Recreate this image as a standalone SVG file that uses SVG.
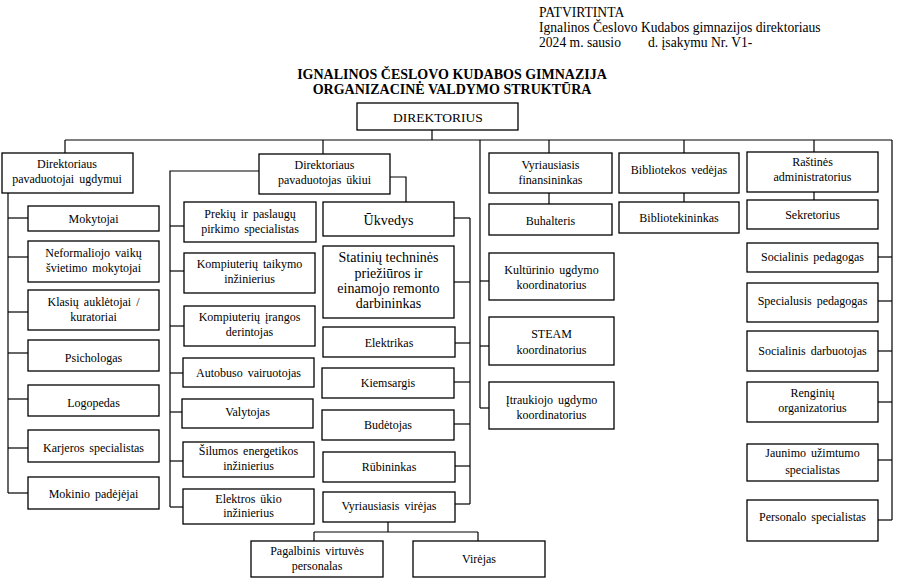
<svg xmlns="http://www.w3.org/2000/svg" width="900" height="583" viewBox="0 0 900 583">
<style>
text{font-family:"Liberation Serif","Times New Roman","DejaVu Serif",serif;fill:#000}
.hd{font-size:13.6px}
.ti{font-size:14px;font-weight:bold;text-anchor:middle}
.b rect{fill:#fff;stroke:#000;stroke-width:1.3}
.b text{font-size:12px;text-anchor:middle;word-spacing:2px}
.b text.big{font-size:14px;word-spacing:0}
.b text.dir{font-size:13.5px}
#connectors line,#connectors polyline{stroke:#000;stroke-width:1.2;fill:none}
</style>
<rect width="900" height="583" fill="#fff"/>
<g id="header">
<text class="hd" x="539" y="17">PATVIRTINTA</text>
<text class="hd" x="539" y="32">Ignalinos Česlovo Kudabos gimnazijos direktoriaus</text>
<text class="hd" x="539" y="47">2024 m. sausio</text>
<text class="hd" x="648" y="47">d. įsakymu  Nr. V1-</text>
<text class="ti" x="452" y="79">IGNALINOS ČESLOVO KUDABOS GIMNAZIJA</text>
<text class="ti" x="452" y="93.5">ORGANIZACINĖ VALDYMO STRUKTŪRA</text>
</g>
<g id="connectors">
<line x1="432" y1="130" x2="432" y2="140"/>
<line x1="65" y1="140" x2="892" y2="140"/>
<line x1="65" y1="140" x2="65" y2="153"/>
<line x1="323" y1="140" x2="323" y2="154"/>
<line x1="549" y1="140" x2="549" y2="153"/>
<line x1="684" y1="140" x2="684" y2="153"/>
<line x1="814" y1="140" x2="814" y2="152"/>
<line x1="8" y1="193" x2="8" y2="493"/>
<line x1="8" y1="218" x2="28" y2="218"/>
<line x1="8" y1="257" x2="28" y2="257"/>
<line x1="8" y1="312" x2="28" y2="312"/>
<line x1="8" y1="353" x2="28" y2="353"/>
<line x1="8" y1="399" x2="28" y2="399"/>
<line x1="8" y1="448" x2="28" y2="448"/>
<line x1="8" y1="493" x2="28" y2="493"/>
<polyline points="259,171 170,171 170,507"/>
<line x1="170" y1="226" x2="184" y2="226"/>
<line x1="170" y1="271" x2="184" y2="271"/>
<line x1="170" y1="326" x2="184" y2="326"/>
<line x1="170" y1="373" x2="183" y2="373"/>
<line x1="170" y1="412" x2="182" y2="412"/>
<line x1="170" y1="461" x2="183" y2="461"/>
<line x1="170" y1="507" x2="183" y2="507"/>
<polyline points="390,177 406,177 406,202"/>
<line x1="470" y1="218" x2="470" y2="504"/>
<line x1="454" y1="218" x2="470" y2="218"/>
<line x1="454" y1="282" x2="470" y2="282"/>
<line x1="455" y1="343" x2="470" y2="343"/>
<line x1="454" y1="382" x2="470" y2="382"/>
<line x1="454" y1="424" x2="470" y2="424"/>
<line x1="455" y1="466" x2="470" y2="466"/>
<line x1="455" y1="504" x2="470" y2="504"/>
<line x1="388" y1="522" x2="388" y2="532"/>
<line x1="314" y1="532" x2="478" y2="532"/>
<line x1="314" y1="532" x2="314" y2="541"/>
<line x1="478" y1="532" x2="478" y2="541"/>
<line x1="480" y1="140" x2="480" y2="408"/>
<line x1="480" y1="281" x2="489" y2="281"/>
<line x1="480" y1="346" x2="489" y2="346"/>
<line x1="480" y1="408" x2="489" y2="408"/>
<line x1="549" y1="193" x2="549" y2="204"/>
<line x1="684" y1="193" x2="684" y2="202"/>
<line x1="814" y1="192" x2="814" y2="200"/>
<line x1="892" y1="140" x2="892" y2="520"/>
<line x1="878" y1="257" x2="892" y2="257"/>
<line x1="878" y1="301" x2="892" y2="301"/>
<line x1="878" y1="351" x2="892" y2="351"/>
<line x1="878" y1="402" x2="892" y2="402"/>
<line x1="878" y1="460" x2="892" y2="460"/>
<line x1="878" y1="520" x2="892" y2="520"/>
</g>
<g id="direktorius" class="b"><rect x="357" y="103" width="161" height="27"/><text class="dir" x="438" y="122">DIREKTORIUS</text></g>
<g id="dp-ugdymui" class="b"><rect x="2" y="153" width="131" height="40"/><text x="67" y="168">Direktoriaus</text><text x="67" y="183">pavaduotojai ugdymui</text></g>
<g id="mokytojai" class="b"><rect x="28" y="206" width="131" height="25"/><text x="93.5" y="222.5">Mokytojai</text></g>
<g id="neformaliojo" class="b"><rect x="28" y="241" width="131" height="41"/><text x="93.5" y="257">Neformaliojo vaikų</text><text x="93.5" y="272">švietimo mokytojai</text></g>
<g id="klasiu" class="b"><rect x="28" y="290" width="131" height="40"/><text x="93.5" y="306">Klasių auklėtojai /</text><text x="93.5" y="321">kuratoriai</text></g>
<g id="psichologas" class="b"><rect x="28" y="340" width="131" height="31"/><text x="93.5" y="362">Psichologas</text></g>
<g id="logopedas" class="b"><rect x="28" y="385" width="131" height="31"/><text x="93.5" y="407">Logopedas</text></g>
<g id="karjeros" class="b"><rect x="28" y="430" width="131" height="32"/><text x="93.5" y="452">Karjeros specialistas</text></g>
<g id="mokinio" class="b"><rect x="28" y="477" width="131" height="32"/><text x="93.5" y="498">Mokinio padėjėjai</text></g>
<g id="dp-ukiui" class="b"><rect x="259" y="154" width="131" height="40"/><text x="324.5" y="169">Direktoriaus</text><text x="324.5" y="184">pavaduotojas ūkiui</text></g>
<g id="prekiu" class="b"><rect x="184" y="202" width="132" height="40"/><text x="250" y="217.5">Prekių ir paslaugų</text><text x="250" y="232.5">pirkimo specialistas</text></g>
<g id="komp-taikymo" class="b"><rect x="184" y="253" width="131" height="40"/><text x="249.5" y="268">Kompiuterių taikymo</text><text x="249.5" y="283">inžinierius</text></g>
<g id="komp-irangos" class="b"><rect x="184" y="306" width="131" height="40"/><text x="249.5" y="321">Kompiuterių įrangos</text><text x="249.5" y="336">derintojas</text></g>
<g id="autobuso" class="b"><rect x="183" y="358" width="131" height="29"/><text x="248.5" y="377">Autobuso vairuotojas</text></g>
<g id="valytojas" class="b"><rect x="182" y="399" width="131" height="29"/><text x="247.5" y="416">Valytojas</text></g>
<g id="silumos" class="b"><rect x="183" y="442" width="131" height="35"/><text x="248.5" y="455">Šilumos energetikos</text><text x="248.5" y="470">inžinierius</text></g>
<g id="elektros" class="b"><rect x="183" y="489" width="131" height="35"/><text x="248.5" y="503">Elektros ūkio</text><text x="248.5" y="517">inžinierius</text></g>
<g id="ukvedys" class="b"><rect x="323" y="202" width="131" height="34"/><text class="big" x="388.5" y="225">Ūkvedys</text></g>
<g id="statiniu" class="b"><rect x="323" y="246" width="131" height="72"/><text class="big" x="388.5" y="262">Statinių techninės</text><text class="big" x="388.5" y="277.5">priežiūros ir</text><text class="big" x="388.5" y="293">einamojo remonto</text><text class="big" x="388.5" y="308">darbininkas</text></g>
<g id="elektrikas" class="b"><rect x="323" y="327" width="132" height="30"/><text x="389" y="347">Elektrikas</text></g>
<g id="kiemsargis" class="b"><rect x="322" y="368" width="132" height="30"/><text x="388" y="387">Kiemsargis</text></g>
<g id="budetojas" class="b"><rect x="322" y="410" width="132" height="30"/><text x="388" y="429">Budėtojas</text></g>
<g id="rubininkas" class="b"><rect x="323" y="452" width="132" height="30"/><text x="389" y="471">Rūbininkas</text></g>
<g id="vyr-virejas" class="b"><rect x="323" y="492" width="132" height="30"/><text x="389" y="510">Vyriausiasis virėjas</text></g>
<g id="pagalbinis" class="b"><rect x="251" y="541" width="132" height="36"/><text x="317" y="555">Pagalbinis virtuvės</text><text x="317" y="570">personalas</text></g>
<g id="virejas" class="b"><rect x="413" y="541" width="132" height="36"/><text x="479" y="563">Virėjas</text></g>
<g id="finansininkas" class="b"><rect x="489" y="153" width="123" height="40"/><text x="550.5" y="169">Vyriausiasis</text><text x="550.5" y="184">finansininkas</text></g>
<g id="buhalteris" class="b"><rect x="489" y="204" width="123" height="31"/><text x="550.5" y="225">Buhalteris</text></g>
<g id="kulturinio" class="b"><rect x="489" y="253" width="125" height="47"/><text x="551.5" y="274">Kultūrinio ugdymo</text><text x="551.5" y="289">koordinatorius</text></g>
<g id="steam" class="b"><rect x="489" y="317" width="125" height="48"/><text x="551.5" y="338">STEAM</text><text x="551.5" y="354">koordinatorius</text></g>
<g id="itraukiojo" class="b"><rect x="489" y="382" width="125" height="47"/><text x="551.5" y="404">Įtraukiojo ugdymo</text><text x="551.5" y="419">koordinatorius</text></g>
<g id="bibliotekos" class="b"><rect x="619" y="153" width="120" height="40"/><text x="679" y="174">Bibliotekos vedėjas</text></g>
<g id="bibliotekininkas" class="b"><rect x="619" y="202" width="120" height="31"/><text x="679" y="222">Bibliotekininkas</text></g>
<g id="rastines" class="b"><rect x="747" y="152" width="131" height="40"/><text x="812.5" y="166">Raštinės</text><text x="812.5" y="181">administratorius</text></g>
<g id="sekretorius" class="b"><rect x="747" y="200" width="131" height="29"/><text x="812.5" y="219">Sekretorius</text></g>
<g id="soc-pedagogas" class="b"><rect x="747" y="243" width="131" height="29"/><text x="812.5" y="261">Socialinis pedagogas</text></g>
<g id="spec-pedagogas" class="b"><rect x="747" y="283" width="131" height="39"/><text x="812.5" y="305">Specialusis pedagogas</text></g>
<g id="soc-darbuotojas" class="b"><rect x="747" y="331" width="131" height="40"/><text x="812.5" y="355">Socialinis darbuotojas</text></g>
<g id="renginiu" class="b"><rect x="747" y="382" width="131" height="40"/><text x="812.5" y="397">Renginių</text><text x="812.5" y="412">organizatorius</text></g>
<g id="jaunimo" class="b"><rect x="747" y="444" width="131" height="37"/><text x="812.5" y="457">Jaunimo užimtumo</text><text x="812.5" y="474">specialistas</text></g>
<g id="personalo" class="b"><rect x="747" y="500" width="131" height="41"/><text x="812.5" y="521">Personalo specialistas</text></g>
</svg>
